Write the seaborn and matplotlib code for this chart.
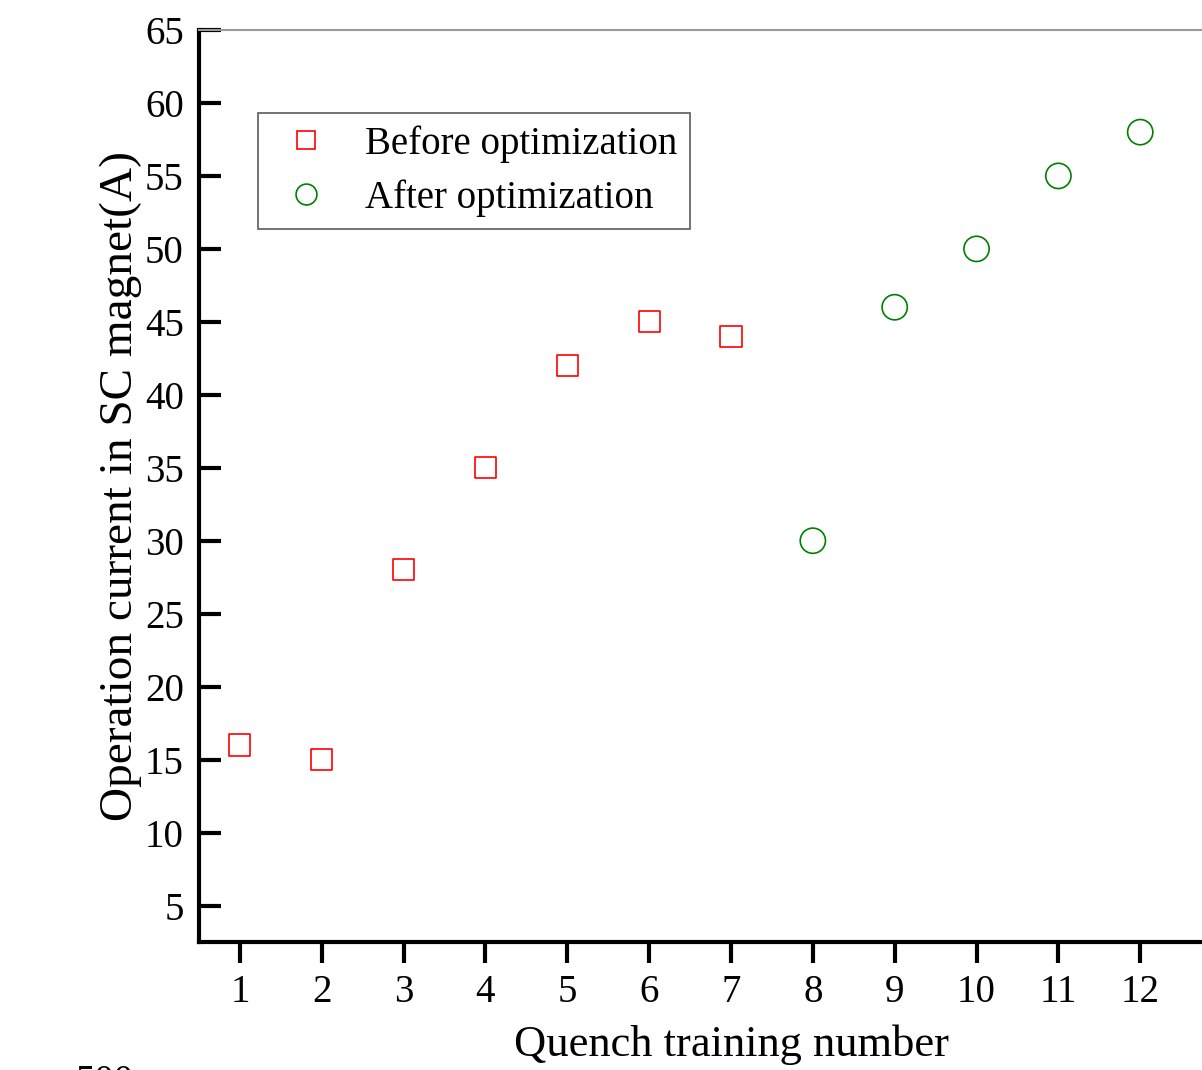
import matplotlib
matplotlib.use("Agg")
import matplotlib.pyplot as plt
from matplotlib.lines import Line2D
import seaborn as sns
import pandas as pd

# Quench training results
before_runs = [1, 2, 3, 4, 5, 6, 7]
before_current = [16, 15, 28, 35, 42, 45, 44]
after_runs = [8, 9, 10, 11, 12]
after_current = [30, 46, 50, 55, 58]
x_ticks = list(range(1, 13))
y_ticks = list(range(5, 70, 5))

sns.set_style("white")
plt.rcParams["font.family"] = ["Liberation Serif", "DejaVu Serif"]
plt.rcParams["text.color"] = "black"
plt.rcParams["axes.labelcolor"] = "black"
plt.rcParams["xtick.color"] = "black"
plt.rcParams["ytick.color"] = "black"

fig = plt.figure(figsize=(12.02, 10.70), dpi=100)
W, H = 1202, 1070
# the axes run past the right edge of the canvas
ax = fig.add_axes([199 / W, 1 - 942 / H, (1263 - 199) / W, (942 - 30) / H])

df_before = pd.DataFrame({"run": before_runs, "current": before_current})
df_after = pd.DataFrame({"run": after_runs, "current": after_current})

sns.scatterplot(data=df_before, x="run", y="current", marker="s", s=230,
                facecolors="none", edgecolor="#ff0000", linewidth=1.2, ax=ax, zorder=3)
sns.scatterplot(data=df_after, x="run", y="current", marker="o", s=330,
                facecolors="none", edgecolor="#008000", linewidth=1.2, ax=ax, zorder=3)

ax.set_xlim(0.5, 13.5)
ax.set_ylim(2.5, 65)
ax.set_xticks(x_ticks)
ax.set_yticks(y_ticks)

ax.tick_params(axis="x", direction="out", length=15, width=3, labelsize=28, pad=8, bottom=True)
ax.tick_params(axis="y", direction="in", length=16, width=3, labelsize=28, pad=11, left=True)

for side in ("left", "bottom"):
    ax.spines[side].set_linewidth(3)
    ax.spines[side].set_color("black")
ax.spines["top"].set_linewidth(1.5)
ax.spines["top"].set_color("#999999")
ax.spines["right"].set_visible(False)

ax.set_xlabel("Quench training number", fontsize=32, labelpad=10)
ax.set_ylabel("Operation current in SC magnet(A)", fontsize=34, labelpad=2)

handles = [
    Line2D([], [], linestyle="none", marker="s", markersize=13, markerfacecolor="none",
           markeredgecolor="#ff0000", markeredgewidth=1.2, label="Before optimization"),
    Line2D([], [], linestyle="none", marker="o", markersize=15, markerfacecolor="none",
           markeredgecolor="#008000", markeredgewidth=1.2, label="After optimization"),
]
leg = ax.legend(handles=handles, loc="upper left",
                bbox_to_anchor=((258 - 199) / (1263 - 199), (942 - 113) / (942 - 30)),
                fontsize=28, frameon=True, fancybox=False, edgecolor="#333333",
                borderpad=0.32, handlelength=1.85, handletextpad=0.58, labelspacing=0.42,
                borderaxespad=0)
leg.get_frame().set_linewidth(1.2)

# fragment of the panel below
fig.text(105 / W, 1 - 1064 / H, "500", fontsize=28, ha="center", va="top")

fig.savefig("out.png", dpi=100)
